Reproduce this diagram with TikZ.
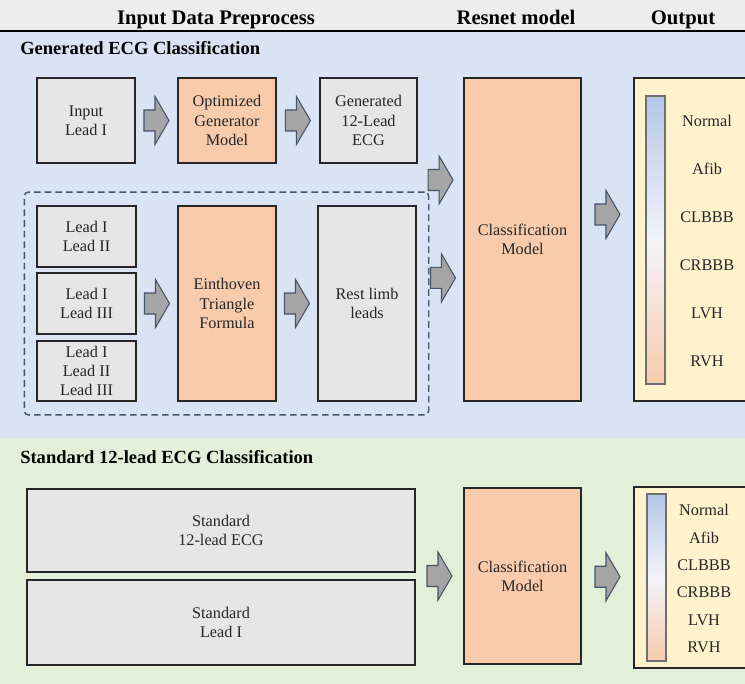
\documentclass[tikz,border=0pt]{standalone}
\usepackage{fontspec}
\setmainfont{Liberation Serif}
\usetikzlibrary{calc,fit}
\definecolor{hdrgray}{HTML}{EDEDED}
\definecolor{bandblue}{HTML}{DAE3F3}
\definecolor{bandgreen}{HTML}{E2F0D9}
\definecolor{boxgray}{HTML}{E7E6E6}
\definecolor{boxorange}{HTML}{F8CBAD}
\definecolor{boxgold}{HTML}{FFF2CC}
\definecolor{boxline}{HTML}{262626}
\definecolor{bodytext}{HTML}{262626}
\definecolor{arrgray}{HTML}{A5A5A5}
\definecolor{slate}{HTML}{44546A}
\definecolor{barblue}{HTML}{B4C7E7}
\definecolor{barmid}{HTML}{F2F4FA}
\definecolor{bargray}{HTML}{6F6F6F}
\newcommand{\bodyfont}{\rmfamily\fontsize{12.2}{14.3}\selectfont}
\tikzset{
  rawbox/.style={draw=boxline, line width=1.1pt, fill=boxgray, text=bodytext, align=center, inner sep=0pt, font=\bodyfont},
  modelbox/.style={rawbox, fill=boxorange},
  outframe/.style={draw=boxline, line width=1.1pt, fill=boxgold, inner sep=0pt},
  scalebar/.style={draw=bargray, line width=0.8pt, top color=barblue, bottom color=boxorange, middle color=barmid, inner sep=0pt, minimum width=14.25pt},
  clslabel/.style={text=bodytext, font=\bodyfont, inner sep=0pt},
  leadframe/.style={draw=slate, dash pattern=on 5pt off 3pt, line width=1.1pt, rounded corners=3pt},
  colhead/.style={font=\rmfamily\fontsize{15.5}{18}\selectfont\bfseries, anchor=base, inner sep=0pt},
  sechead/.style={font=\rmfamily\fontsize{13.9}{16}\selectfont\bfseries, anchor=base west, inner sep=0pt},
  blockarr/.pic={
    \draw[draw=slate, fill=arrgray, line width=0.8pt, line join=miter]
      (-12.5,-10.5) -- (-1.5,-10.5) -- (-1.5,-24) -- (12.5,0) -- (-1.5,24) -- (-1.5,10.5) -- (-12.5,10.5) -- cycle;
  }
}

\begin{document}
\begin{tikzpicture}[x=0.75pt,y=-0.75pt]
  \useasboundingbox (0,0) rectangle (745,684);
  \clip (0,0) rectangle (745,684);
  % bands
  \fill[hdrgray] (0,0) rectangle (745,31);
  \fill[bandblue] (0,32) rectangle (745,438);
  \fill[bandgreen] (0,438) rectangle (745,684);
  \draw[line width=1.5pt, black] (0,31.5) -- (745,31.5);

  \node[colhead] (hdrin) at (216,25) {Input Data Preprocess};
  \node[colhead] (hdrnet) at (516,25) {Resnet model};
  \node[colhead] (hdrout) at (683,25) {Output};

  % generated ECG branch
  \node[sechead] (secgen) at (20,55) {Generated ECG Classification};
  \node[rawbox, minimum width=73.5pt, minimum height=63.75pt] (inlead) at (86,120.5) {Input\\Lead I};
  \node[modelbox, minimum width=73.5pt, minimum height=63.75pt] (optgen) at (227,120.5) {Optimized\\Generator\\Model};
  \node[rawbox, minimum width=73pt, minimum height=63.75pt] (genecg) at (368.5,120.5) {Generated\\12-Lead\\ECG};

  \node[rawbox, minimum width=74.25pt, minimum height=45.75pt] (pairA) at (86.5,236.5) {Lead I\\Lead II};
  \node[rawbox, minimum width=74.25pt, minimum height=45.75pt] (pairB) at (86.5,303.5) {Lead I\\Lead III};
  \node[rawbox, minimum width=74.25pt, minimum height=45pt] (pairC) at (86.5,371) {Lead I\\Lead II\\Lead III};
  \node[modelbox, minimum width=73.5pt, minimum height=146.25pt] (einth) at (227,303.5) {Einthoven\\Triangle\\Formula};
  \node[rawbox, minimum width=73.5pt, minimum height=146.25pt] (rest) at (367,303.5) {Rest limb\\leads};
  \node[leadframe, fit=(pairA)(pairC)(rest), inner xsep=9pt, inner ysep=9.9pt] (leadset) {};

  \node[modelbox, minimum width=87.75pt, minimum height=242.25pt] (resA) at (522.5,239.5) {Classification\\Model};
  \node[outframe, minimum width=102pt, minimum height=242.25pt] (outA) at (702,239.5) {};
  \node[scalebar, minimum height=216pt] (barA) at (655.5,240) {};
  \foreach \lab [count=\i] in {Normal,Afib,CLBBB,CRBBB,LVH,RVH}
    \node[clslabel] (labA\i) at (707,{121+48*(\i-1)}) {\lab};

  \pic at ($(inlead.east)!0.5!(optgen.west)$) {blockarr};
  \pic at ($(optgen.east)!0.5!(genecg.west)$) {blockarr};
  \pic at ($(genecg.east)!0.5!(resA.west)$) {blockarr};
  \pic at ($(pairB.east)!0.5!(einth.west)$) {blockarr};
  \pic at ($(einth.east)!0.5!(rest.west)$) {blockarr};
  \pic at ($(leadset.east)!0.4!(resA.west)$) {blockarr};
  \pic at ($(resA.east)!0.5!(outA.west)+(0,-25)$) {blockarr};

  % standard 12-lead branch
  \node[sechead] (secstd) at (20,463) {Standard 12-lead ECG Classification};
  \node[rawbox, minimum width=291pt, minimum height=62.25pt] (std12) at (221,530.5) {Standard\\12-lead ECG};
  \node[rawbox, minimum width=291pt, minimum height=63.75pt] (stdI) at (221,622.5) {Standard\\Lead I};
  \node[modelbox, minimum width=87.75pt, minimum height=132pt] (clsB) at (522.5,576) {Classification\\Model};
  \node[outframe, minimum width=102pt, minimum height=135.75pt] (outB) at (702,577.5) {};
  \node[scalebar, minimum height=125.25pt] (barB) at (656.5,577.5) {};
  \foreach \lab [count=\i] in {Normal,Afib,CLBBB,CRBBB,LVH,RVH}
    \node[clslabel] (labB\i) at (704,{510+27.5*(\i-1)}) {\lab};

  \pic at ($($(std12.south east)!0.5!(stdI.north east)$)!0.5!(clsB.west)$) {blockarr};
  \pic at ($(clsB.east)!0.5!(outB.west)$) {blockarr};
\end{tikzpicture}
\end{document}
